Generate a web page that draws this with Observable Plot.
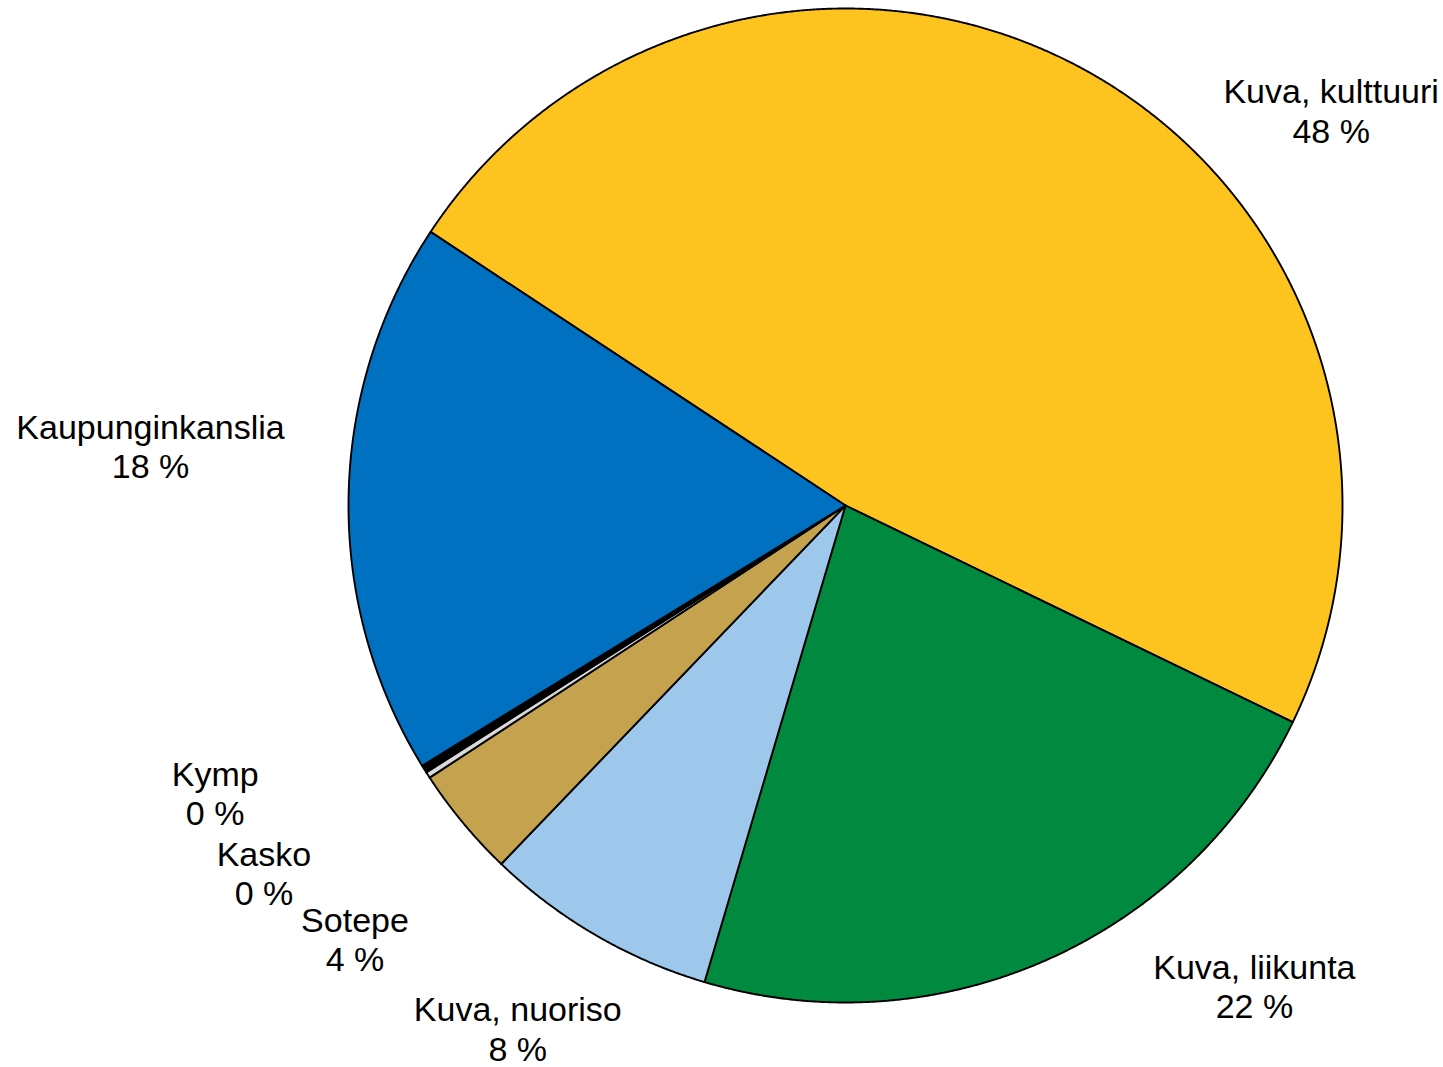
<!DOCTYPE html>
<html>
<head>
<meta charset="utf-8">
<script src="https://cdn.jsdelivr.net/npm/d3@7"></script>
<script src="https://cdn.jsdelivr.net/npm/@observablehq/plot@0.6"></script>
<style>
  html, body { margin: 0; padding: 0; background: #ffffff; }
  #chart svg { display: block; }
</style>
</head>
<body>
<div id="chart"></div>
<script>
// ---- data ----
const names  = ["Kuva, kulttuuri", "Kuva, liikunta", "Kuva, nuoriso", "Sotepe", "Kasko", "Kymp", "Kaupunginkanslia"];
const shares = [47.9, 22.4, 7.6, 3.6, 0.2, 0.25, 18.05];

// ---- styling / layout ----
const colors = ["#FDC41F", "#00893F", "#9DC8EB", "#C4A24E", "#D9D9D9", "#000000", "#0070C0"];
const startAngle = 303.4;   // degrees, clockwise from 12 o'clock
const radius = 497;         // px
// label offsets (px, screen direction) from the rim point at each slice's mid angle
const labelDx = [240, 208, -78, -108, -164, -209, -198];
const labelDy = [37, 26, 93, 116, 98, 24, -52];

const W = 1443, H = 1067, CX = 845, CY = 505;

const total = d3.sum(shares);
const rad = a => a * Math.PI / 180;

const slicePts = [];
const labels = [];
let a0 = startAngle;
names.forEach((name, i) => {
  const a1 = a0 + shares[i] / total * 360;
  slicePts.push({name, x: 0, y: 0});
  const n = Math.max(2, Math.ceil((a1 - a0) / 0.2));
  for (let k = 0; k <= n; k++) {
    const a = a0 + (a1 - a0) * k / n;
    slicePts.push({name, x: radius * Math.sin(rad(a)), y: radius * Math.cos(rad(a))});
  }
  slicePts.push({name, x: 0, y: 0});
  const mid = (a0 + a1) / 2;
  labels.push({
    name,
    text: `${name}\n${Math.round(shares[i])} %`,
    x: radius * Math.sin(rad(mid)) + labelDx[i],
    y: radius * Math.cos(rad(mid)) - labelDy[i]
  });
  a0 = a1;
});

const chart = Plot.plot({
  width: W,
  height: H,
  margin: 0,
  x: {domain: [-CX, W - CX], axis: null},
  y: {domain: [-(H - CY), CY], axis: null},
  color: {domain: names, range: colors},
  style: {background: "#ffffff", fontFamily: "'Liberation Sans', Arial, sans-serif"},
  marks: [
    Plot.line(slicePts, {
      x: "x", y: "y", z: "name", fill: "name",
      stroke: "#000000", strokeWidth: 1.9, strokeLinejoin: "round"
    }),
    Plot.text(labels, {
      x: "x", y: "y", text: "text",
      fontSize: 34, lineHeight: 1.16,
      textAnchor: "middle", lineAnchor: "middle",
      fill: "#000000"
    })
  ]
});
document.getElementById("chart").appendChild(chart);
</script>
</body>
</html>
